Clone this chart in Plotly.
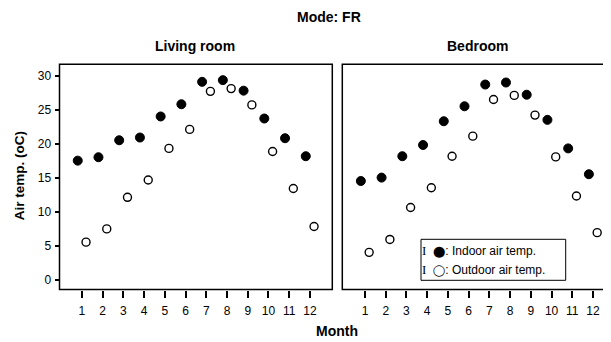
import plotly.graph_objects as go

months = list(range(1, 13))
tick_labels = [str(m) for m in months]

living_indoor = [17.5, 18.0, 20.5, 20.9, 24.0, 25.8, 29.1, 29.35, 27.8, 23.7, 20.8, 18.15]
living_outdoor = [5.5, 7.45, 12.1, 14.65, 19.3, 22.1, 27.7, 28.1, 25.7, 18.85, 13.4, 7.8]
bed_indoor = [14.5, 15.0, 18.15, 19.8, 23.3, 25.5, 28.7, 29.0, 27.2, 23.5, 19.3, 15.5]
bed_outdoor = [4.0, 5.9, 10.6, 13.5, 18.15, 21.1, 26.5, 27.1, 24.2, 18.05, 12.3, 6.9]

# the page body has an 8px margin, so the figure is drawn 8px in from the top-left
OFF = 8
W, H = 611 - OFF, 342 - OFF
FONT = "Liberation Sans, Arial, sans-serif"

def px_x(p):
    return (p - OFF) / W

def px_y(p):
    return 1 - (p - OFF) / H

fig = go.Figure()

offset = 0.2
def add_pair(indoor, outdoor, xa, ya):
    fig.add_trace(go.Scatter(
        x=[m - offset for m in months], y=indoor, mode="markers",
        marker=dict(size=9, color="black", line=dict(color="black", width=1)),
        xaxis=xa, yaxis=ya, showlegend=False, cliponaxis=False))
    fig.add_trace(go.Scatter(
        x=[m + offset for m in months], y=outdoor, mode="markers",
        marker=dict(size=8, color="white", line=dict(color="black", width=1.4)),
        xaxis=xa, yaxis=ya, showlegend=False, cliponaxis=False))

add_pair(living_indoor, living_outdoor, "x", "y")
add_pair(bed_indoor, bed_outdoor, "x2", "y2")

ydom = [px_y(289.5), px_y(64.3)]
yrange = [-1.47, 31.68]

common_x = dict(
    tickmode="array", tickvals=months, ticktext=tick_labels,
    ticks="outside", ticklen=7, tickwidth=1.5, tickcolor="black",
    ticklabelstandoff=3,
    showline=False, zeroline=False, showgrid=False,
    tickfont=dict(family=FONT, size=12, color="#000000"),
)
fig.update_layout(
    width=W, height=H,
    margin=dict(l=0, r=0, t=0, b=0),
    paper_bgcolor="white", plot_bgcolor="white",
    font=dict(family=FONT, color="#000000"),
    xaxis=dict(domain=[px_x(59.5), px_x(332.3)], range=[-0.08, 13.08], anchor="y", **common_x),
    xaxis2=dict(domain=[px_x(342.3), px_x(609)], range=[-0.095, 12.77], anchor="y2", **common_x),
    yaxis=dict(domain=ydom, range=yrange, anchor="x",
               tickvals=[0, 5, 10, 15, 20, 25, 30], ticks="outside", ticklen=4,
               tickwidth=1.5, tickcolor="black", showgrid=False, zeroline=False,
               showline=False, ticklabelstandoff=1,
               tickfont=dict(family=FONT, size=12, color="#000000")),
    yaxis2=dict(domain=ydom, range=yrange, anchor="x2", showticklabels=False,
                ticks="", showgrid=False, zeroline=False, showline=False),
    showlegend=False,
)

# panel frames
for x0, x1 in [(59.5, 332.3), (342.3, 609)]:
    fig.add_shape(type="rect", xref="paper", yref="paper",
                  x0=px_x(x0), x1=px_x(x1), y0=ydom[0], y1=ydom[1],
                  line=dict(color="black", width=1.5), layer="above")

ann = [
    dict(text="<b>Mode: FR</b>", x=px_x(328.5), y=px_y(16.7), size=14),
    dict(text="<b>Living room</b>", x=px_x(195.5), y=px_y(46), size=14),
    dict(text="<b>Bedroom</b>", x=px_x(477), y=px_y(46), size=14),
    dict(text="<b>Month</b>", x=px_x(337), y=px_y(331), size=14),
]
for a in ann:
    fig.add_annotation(text=a["text"], x=a["x"], y=a["y"], xref="paper", yref="paper",
                       showarrow=False, xanchor="center", yanchor="middle",
                       font=dict(family=FONT, size=a["size"], color="black"))

fig.add_annotation(text="<b>Air temp. (oC)</b>", x=px_x(19.3), y=px_y(176),
                   xref="paper", yref="paper", showarrow=False, textangle=-90,
                   xanchor="center", yanchor="middle",
                   font=dict(family=FONT, size=13.5, color="black"))

# legend box
fig.add_shape(type="rect", xref="paper", yref="paper",
              x0=px_x(421), x1=px_x(565.7), y0=px_y(280.3), y1=px_y(239.3),
              line=dict(color="black", width=1), fillcolor="white", layer="above")
legend_rows = [("⬤", "Indoor air temp.", 250), ("◯", "Outdoor air temp.", 269.5)]
for sym, label, yy in legend_rows:
    fig.add_annotation(
        text="<span style='font-family:Liberation Serif;font-size:13px'>I</span>\u00a0\u00a0"
             + "<span style='font-family:DejaVu Sans;font-size:11px'>" + sym + "</span>: " + label,
        x=px_x(420), y=px_y(yy), xref="paper", yref="paper", showarrow=False,
        xanchor="left", yanchor="middle",
        font=dict(family=FONT, size=12, color="black"))

fig.write_html("out.html")
